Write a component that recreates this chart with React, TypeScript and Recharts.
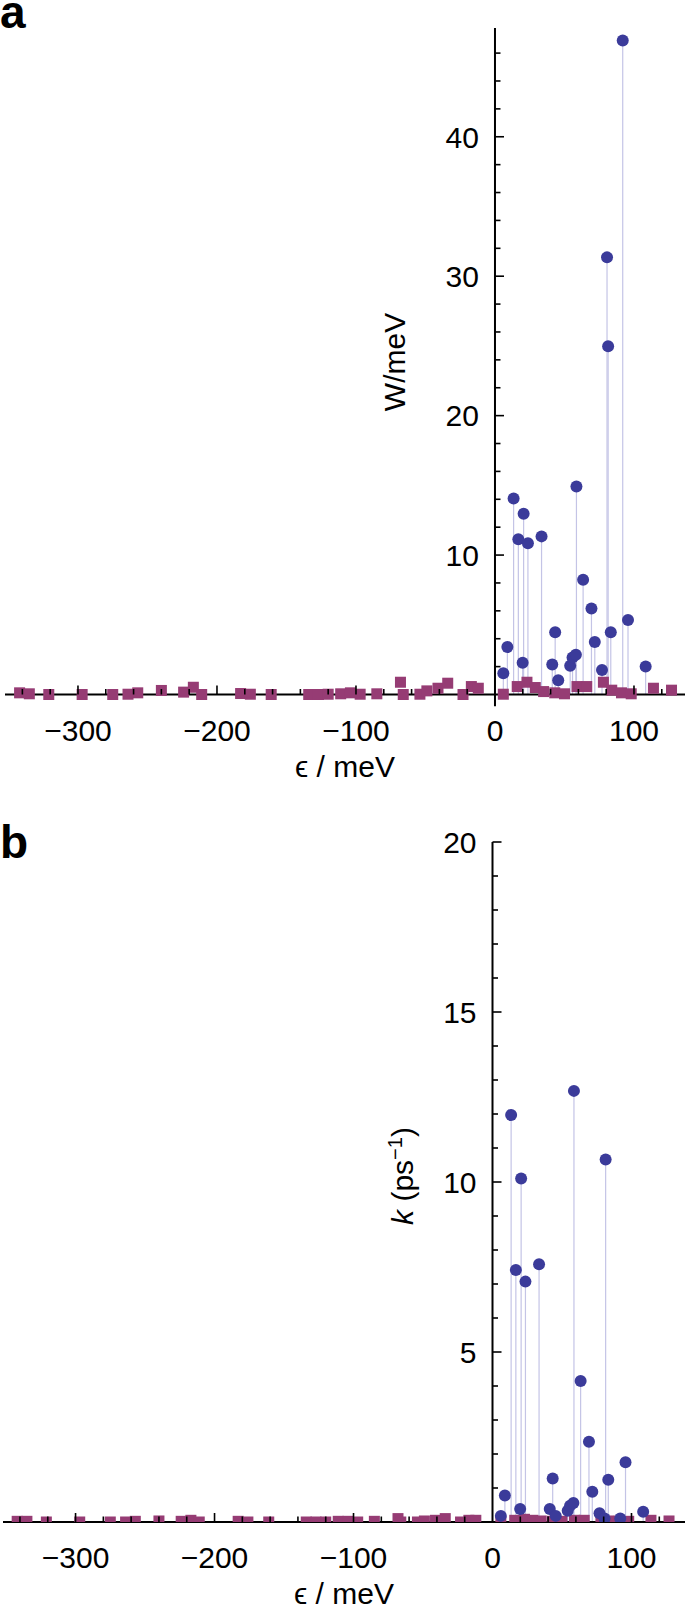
import React from "react";
import { ScatterChart, Scatter, XAxis, YAxis, ErrorBar, ReferenceLine } from "recharts";

// blue circles: energies (meV) of the states, with W (panel a) and k (panel b)
const stateEps = [6.0, 8.9, 13.4, 16.8, 19.9, 20.6, 23.7, 33.5, 41.2, 43.3, 45.5, 54.1, 55.8, 58.2, 58.6, 63.4, 69.4, 71.8, 77.0, 80.6, 81.4, 83.3, 91.9, 95.7, 108.4];
const stateW = [1.53, 3.4, 14.05, 11.13, 2.27, 12.97, 10.84, 11.34, 2.15, 4.47, 1.03, 2.06, 2.66, 2.85, 14.91, 8.23, 6.17, 3.76, 1.75, 31.35, 24.98, 4.47, 46.9, 5.34, 2.01];
const stateK = [0.18, 0.78, 11.97, 7.41, 0.38, 10.1, 7.07, 7.58, 0.38, 1.28, 0.18, 0.33, 0.48, 0.56, 12.68, 4.15, 2.36, 0.89, 0.26, 0.1, 10.66, 1.24, 0.1, 1.76, 0.3];

// magenta squares
const bathEps = [-342, -335, -321, -297, -275, -264, -257, -240, -224, -217, -211, -183, -176, -161, -134, -127, -120, -111, -104, -97, -85, -68, -66, -54, -49, -41, -34, -23, -17, -12, 6, 16, 23, 29, 35, 43, 50, 59, 66, 78, 84, 91, 98, 114, 127];
const bathW = [0.12, 0.05, 0, 0, 0, 0.02, 0.12, 0.29, 0.17, 0.52, 0, 0.07, 0.02, 0, 0, 0, 0.02, 0.05, 0.12, 0.02, 0.05, 0.88, 0, 0.02, 0.26, 0.45, 0.81, 0, 0.57, 0.45, 0.02, 0.57, 0.88, 0.5, 0.21, 0.12, 0.05, 0.57, 0.57, 0.88, 0.31, 0.12, 0.05, 0.45, 0.31];
const bathK = [0.02, 0.02, 0, 0, 0, 0, 0.02, 0.03, 0.02, 0.05, 0, 0.02, 0, 0, 0, 0, 0, 0.02, 0.02, 0, 0.02, 0.1, 0, 0, 0.03, 0.05, 0.1, 0, 0.05, 0.05, 0, 0.05, 0.08, 0.05, 0.03, 0.02, 0.02, 0.05, 0.05, 0.08, 0.03, 0.02, 0.02, 0.05, 0.03];

const xTicks = [-340, -320, -300, -280, -260, -240, -220, -200, -180, -160, -140, -120, -100, -80, -60, -40, -20, 0, 20, 40, 60, 80, 100, 120];
const xMajor = [-300, -200, -100, 0, 100];
const yTicksA = [2, 4, 6, 8, 10, 12, 14, 16, 18, 20, 22, 24, 26, 28, 30, 32, 34, 36, 38, 40, 42, 44, 46];
const yMajorA = [10, 20, 30, 40];
const yTicksB = [1, 2, 3, 4, 5, 6, 7, 8, 9, 10, 11, 12, 13, 14, 15, 16, 17, 18, 19, 20];
const yMajorB = [5, 10, 15, 20];

const WIDTH = 685;
const FONT = "'Liberation Sans', Arial, Helvetica, sans-serif";
const BLUE = "#3b3b9a";
const STEM = "#c4c4e6";
const PLUM = "#963c74";

type Row = { x: number; y: number; err?: number[] };

const fmt = (v: number) => (v < 0 ? "\u2212" + Math.abs(v) : String(v));

type PanelProps = {
  top: number;
  height: number;
  plotTop: number;
  plotBottom: number;
  plotLeft: number;
  xDomain: [number, number];
  yDomain: [number, number];
  yTicks: number[];
  yMajor: number[];
  values: number[];
  bathValues: number[];
  clip: boolean;
  axisBelow: number;
};

function Panel(p: PanelProps) {
  // axes get 1px of room each, the rest is margin
  const margin = { top: p.plotTop, right: 0, bottom: p.height - p.plotBottom - 1, left: p.plotLeft - 1 };
  const plotW = WIDTH - p.plotLeft;
  const plotBottom = p.plotBottom;
  const axisX = p.plotLeft + ((0 - p.xDomain[0]) / (p.xDomain[1] - p.xDomain[0])) * plotW;

  const states: Row[] = stateEps.map((x, i) => ({ x, y: p.values[i], err: [p.values[i], 0] }));
  const bath: Row[] = bathEps.map((x, i) => ({ x, y: p.bathValues[i] }));

  const xTick = (props: any) => {
    const v = props.payload.value;
    const x = props.x;
    const major = xMajor.includes(v);
    return (
      <g>
        {v !== 0 && (
          <line x1={x} x2={x} y1={plotBottom} y2={plotBottom - (major ? 9 : 5.5)} stroke="#000" strokeWidth={1.6} />
        )}
        {major && (
          <text x={x} y={plotBottom + 46} textAnchor="middle" fontSize={30} fontFamily={FONT} fill="#000">
            {fmt(v)}
          </text>
        )}
      </g>
    );
  };

  const yTick = (props: any) => {
    const v = props.payload.value;
    const y = props.y;
    const major = p.yMajor.includes(v);
    return (
      <g>
        <line x1={axisX} x2={axisX + (major ? 9 : 5.5)} y1={y} y2={y} stroke="#000" strokeWidth={1.6} />
        {major && (
          <text x={axisX - 16} y={y} dy="0.36em" textAnchor="end" fontSize={30} fontFamily={FONT} fill="#000">
            {fmt(v)}
          </text>
        )}
      </g>
    );
  };

  return (
    <div style={{ position: "absolute", left: 0, top: p.top }}>
      <ScatterChart width={WIDTH} height={p.height} margin={margin}>
        <Scatter
          data={bath}
          dataKey="y"
          isAnimationActive={false}
          shape={(s: any) => <rect x={s.cx - 5.5} y={s.cy - 5.5} width={11} height={11} fill={PLUM} />}
        />
        <Scatter
          data={states}
          dataKey="y"
          isAnimationActive={false}
          shape={(s: any) => <circle cx={s.cx} cy={s.cy} r={6} fill={BLUE} />}
        >
          <ErrorBar dataKey="err" direction="y" width={0} stroke={STEM} strokeWidth={1.2} isAnimationActive={false} />
        </Scatter>
        <ReferenceLine
          segment={[{ x: 0, y: p.axisBelow }, { x: 0, y: p.yDomain[1] }]}
          ifOverflow="visible"
          stroke="#000"
          strokeWidth={2}
        />
        <XAxis
          type="number"
          dataKey="x"
          domain={p.xDomain}
          ticks={xTicks}
          interval={0}
          height={1}
          tickSize={0}
          tickMargin={0}
          tickLine={false}
          axisLine={{ stroke: "#000", strokeWidth: 2 }}
          tick={xTick}
        />
        <YAxis
          type="number"
          dataKey="y"
          domain={p.yDomain}
          allowDataOverflow={p.clip}
          ticks={p.yTicks}
          interval={0}
          width={1}
          tickSize={0}
          tickMargin={0}
          tickLine={false}
          axisLine={false}
          tick={yTick}
        />
      </ScatterChart>
    </div>
  );
}

export default function App() {
  return (
    <div style={{ position: "absolute", left: 0, top: 0, width: WIDTH, height: 1612, background: "#fff" }}>
      <Panel
        top={0}
        height={800}
        plotTop={28}
        plotBottom={694.5}
        plotLeft={5}
        xDomain={[-352.5, 136.7]}
        yDomain={[0, 47.8]}
        yTicks={yTicksA}
        yMajor={yMajorA}
        values={stateW}
        bathValues={bathW}
        clip={false}
        axisBelow={-0.85}
      />
      <Panel
        top={800}
        height={812}
        plotTop={42}
        plotBottom={722}
        plotLeft={3}
        xDomain={[-352.2, 138.5]}
        yDomain={[0, 20]}
        yTicks={yTicksB}
        yMajor={yMajorB}
        values={stateK}
        bathValues={bathK}
        clip={true}
        axisBelow={0}
      />
      <svg
        width={WIDTH}
        height={1612}
        style={{ position: "absolute", left: 0, top: 0, pointerEvents: "none" }}
        fontFamily={FONT}
      >
        <text x={0} y={28} fontSize={46} fontWeight="bold">a</text>
        <text x={0} y={858} fontSize={46} fontWeight="bold">b</text>
        <text transform="translate(405,362) rotate(-90)" textAnchor="middle" fontSize={30}>W/meV</text>
        <text transform="translate(413,1176) rotate(-90)" textAnchor="middle" fontSize={30}>
          <tspan fontStyle="italic">k</tspan> (ps<tspan dy={-11} fontSize={20}>{"\u22121"}</tspan>
          <tspan dy={11}>)</tspan>
        </text>
        <text x={345} y={776.5} textAnchor="middle" fontSize={30}>{"\u03f5 / meV"}</text>
        <text x={344} y={1604} textAnchor="middle" fontSize={30}>{"\u03f5 / meV"}</text>
      </svg>
    </div>
  );
}
